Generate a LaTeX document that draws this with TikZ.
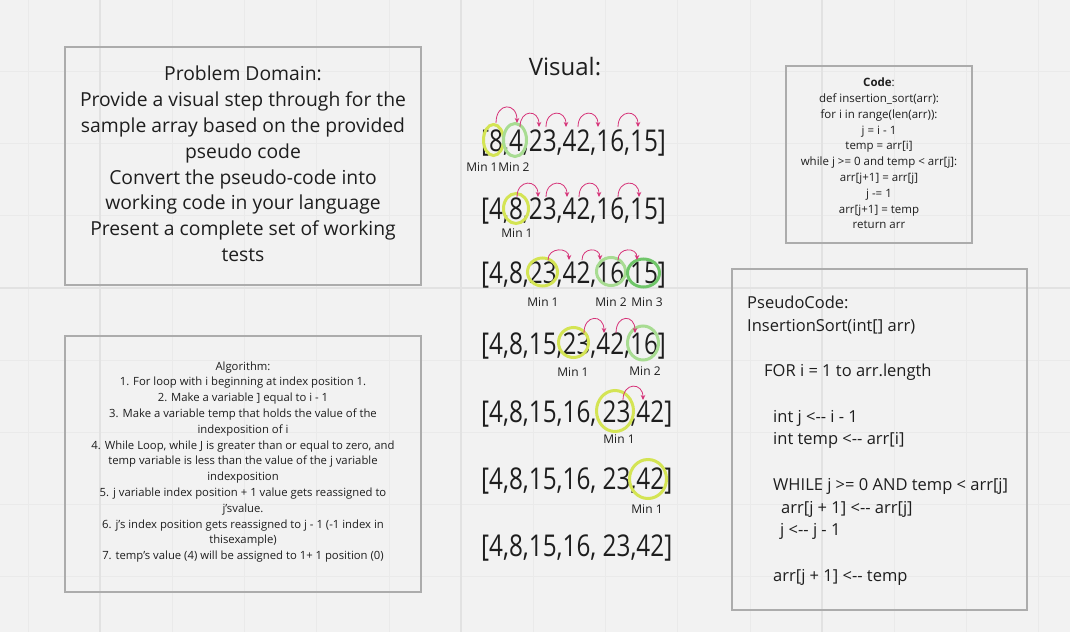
\documentclass[tikz,border=0pt]{standalone}
\usepackage{fontspec}
\setmainfont{Open Sans}
\newfontfamily\arrfont[FakeStretch=0.81]{Open Sans}
\usetikzlibrary{arrows.meta,shapes.geometric}
\definecolor{canvas}{RGB}{242,242,242}
\definecolor{gridlight}{RGB}{234,234,234}
\definecolor{griddark}{RGB}{226,226,226}
\definecolor{boxgray}{RGB}{172,172,172}
\definecolor{ink}{RGB}{30,30,30}
\definecolor{hopink}{RGB}{214,50,120}
\definecolor{minlime}{RGB}{212,228,84}
\definecolor{minmint}{RGB}{168,220,146}
\definecolor{mingreen}{RGB}{112,198,106}

\tikzset{
  panel/.style={draw=boxgray, line width=1.1pt},
  row/.style={anchor=base west, inner sep=0pt, text=ink, font=\arrfont\fontsize{30}{36}\selectfont},
  ring/.style={ellipse, draw=#1, line width=3pt, inner sep=0pt},
  minlabel/.style={text=ink, inner sep=0pt, font=\fontsize{12}{14}\selectfont},
  hop/.style={draw=hopink, line width=0.8pt, -{Stealth[length=5pt,width=4.5pt]}}
}

\begin{document}
\begin{tikzpicture}[x=1pt,y=-1pt]
            % canvas and grid
            \useasboundingbox (0,0) rectangle (1070,632);
            \fill[canvas] (0,0) rectangle (1070,632);
            \foreach \i in {0,...,14}
                \draw[gridlight, line width=0.8pt] ({28+72.2*\i},0) -- ({28+72.2*\i},632);
            \foreach \j in {0,...,8}
                \draw[gridlight, line width=0.8pt] (0,{-0.8+72.2*\j}) -- (1070,{-0.8+72.2*\j});
            \foreach \i in {100,461,822}
                \draw[griddark, line width=1.2pt] (\i,0) -- (\i,632);
            \draw[griddark, line width=1.2pt] (0,288) -- (1070,288);

            % Problem domain
            \draw[panel] (65,47) rectangle (421,285);
            \node[text=ink, align=center, font=\fontsize{19.3}{25.8}\selectfont] (domain) at (243,164)
                {Problem Domain:\\Provide a visual step through for the\\sample array based on the provided\\pseudo code\\Convert the pseudo-code into\\working code in your language\\Present a complete set of working\\tests};

            % Algorithm
            \draw[panel] (65,336) rectangle (421,592);
            \node[text=ink, align=center, font=\fontsize{11.3}{15.8}\selectfont] (algo) at (243,462)
                {Algorithm:\\1. For loop with i beginning at index position 1.\\2. Make a variable ] equal to i - 1\\3. Make a variable temp that holds the value of the\\indexposition of i\\4. While Loop, while J is greater than or equal to zero, and\\temp variable is less than the value of the j variable\\indexposition\\5. j variable index position + 1 value gets reassigned to\\j's{}value.\\6. j's index position gets reassigned to j - 1 (-1 index in\\thisexample)\\7. temp's value (4) will be assigned to 1+ 1 position (0)};

            % Code
            \draw[panel] (786,66) rectangle (972,243);
            \node[text=ink, align=center, font=\fontsize{11.5}{15.8}\selectfont] (code) at (879,153.5)
                {\textbf{Code}:\\def insertion\_sort(arr):\\for i in range(len(arr)):\\j = i - 1\\temp = arr[i]\\while j >= 0 and temp < arr[j]:\\arr[j+1] = arr[j]\\j -= 1\\arr[j+1] = temp\\return arr};

            % PseudoCode
            \draw[panel] (732,269) rectangle (1027,610);
            \node[text=ink, align=left, anchor=north west, inner sep=0pt, font=\fontsize{16.5}{22.7}\selectfont] (pseudo) at (747,296)
                {PseudoCode:\\InsertionSort(int[] arr)\\\mbox{}\\\hspace*{17pt}FOR i = 1 to arr.length\\\mbox{}\\\hspace*{26pt}int j <-{}- i - 1\\\hspace*{26pt}int temp <-{}- arr[i]\\\mbox{}\\\hspace*{26pt}WHILE j >= 0 AND temp < arr[j]\\\hspace*{34pt}arr[j + 1] <-{}- arr[j]\\\hspace*{33pt}j <-{}- j - 1\\\mbox{}\\\hspace*{26pt}arr[j + 1] <-{}- temp};

            % Visual
            \node[text=ink, font=\fontsize{24}{28}\selectfont] (visual) at (565,67) {Visual:};
            \node[row] (row1) at (481,151.7) {[8,4,23,42,16,15]};
            \node[row] (row2) at (481,219) {[4,8,23,42,16,15]};
            \node[row] (row3) at (481,283) {[4,8,23,42,16,15]};
            \node[row] (row4) at (481,354) {[4,8,15,23,42,16]};
            \node[row] (row5) at (481,422) {[4,8,15,16, 23,42]};
            \node[row] (row6) at (481,489) {[4,8,15,16, 23,42]};
            \node[row] (row7) at (481,556) {[4,8,15,16, 23,42]};

            % rings
            \node[ring=minlime, minimum width=20, minimum height=31] (r1a) at (493.5,140) {};
            \node[ring=minmint, minimum width=23, minimum height=33] (r1b) at (515,140) {};
            \node[ring=minlime, minimum width=25, minimum height=30] (r2a) at (516,208.5) {};
            \node[ring=minlime, minimum width=30, minimum height=28] (r3a) at (542.5,272) {};
            \node[ring=minmint, minimum width=29, minimum height=28] (r3b) at (611,271.5) {};
            \node[ring=mingreen, minimum width=32, minimum height=28] (r3c) at (643.5,273) {};
            \node[ring=minlime, minimum width=30, minimum height=30] (r4a) at (573.5,342.5) {};
            \node[ring=minmint, minimum width=31, minimum height=34] (r4b) at (643,343) {};
            \node[ring=minlime, minimum width=37, minimum height=41] (r5a) at (615,411) {};
            \node[ring=minlime, minimum width=37, minimum height=39] (r6a) at (648,479) {};

            % Min labels
            \node[minlabel] (m1a) at (482,167) {Min 1};
            \node[minlabel] (m1b) at (514,167) {Min 2};
            \node[minlabel] (m2a) at (517,233) {Min 1};
            \node[minlabel] (m3a) at (543,302) {Min 1};
            \node[minlabel] (m3b) at (611,302) {Min 2};
            \node[minlabel] (m3c) at (647,302) {Min 3};
            \node[minlabel] (m4a) at (573,372) {Min 1};
            \node[minlabel] (m4b) at (645,371) {Min 2};
            \node[minlabel] (m5a) at (619,439) {Min 1};
            \node[minlabel] (m6a) at (647,509) {Min 1};

            % hops
            \draw[hop] (496,123) .. controls +(0,-21) and +(0,-21) .. (517,123);
            \foreach \a/\b in {520/539,546/566,578/598,618/638}
                \draw[hop] (\a,127) .. controls +(0,-18) and +(0,-18) .. (\b,127);
            \foreach \a/\b in {517/538,546/567,579/599,618/639}
                \draw[hop] (\a,197) .. controls +(0,-18) and +(0,-18) .. (\b,197);
            \foreach \a/\b in {548/569,582/600,618/637}
                \draw[hop] (\a,260) .. controls +(0,-13) and +(0,-13) .. (\b,260);
            \foreach \a/\b in {584/604,616/635}
                \draw[hop] (\a,333) .. controls +(0,-19) and +(0,-19) .. (\b,333);
            \draw[hop] (623,400) .. controls +(0,-18) and +(0,-18) .. (643,400);
        \end{tikzpicture}
\end{document}
